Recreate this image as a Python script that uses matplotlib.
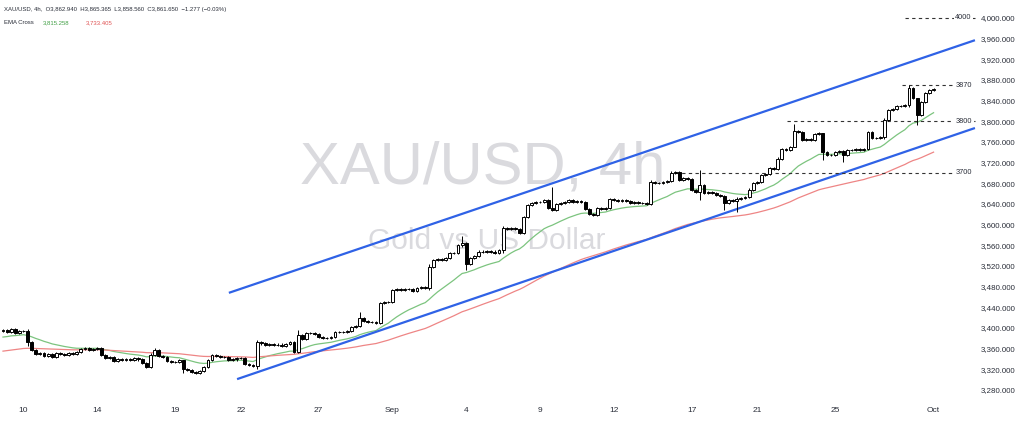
import matplotlib
matplotlib.use("Agg")
import matplotlib.pyplot as plt
import numpy as np

#==========================================================================#
#   XAU/USD 4h candles, Aug 8 -> Oct 1 (closes)         #
#==========================================================================#
closes = [
    3396, 3392, 3398, 3390, 3395, 3394, 3372, 3358, 3350, 3352,
    3346, 3350, 3344, 3352, 3350, 3348, 3351, 3349, 3353, 3360,
    3362, 3358, 3360, 3362, 3348, 3342, 3344, 3336, 3340, 3338,
    3340, 3338, 3341, 3339, 3332, 3325, 3348, 3358, 3346, 3344,
    3336, 3334, 3335, 3338, 3320, 3318, 3315, 3313, 3316, 3324,
    3338, 3348, 3346, 3344, 3343, 3338, 3339, 3342, 3341, 3330,
    3328, 3326, 3372, 3370, 3368, 3369, 3367, 3368, 3366, 3369,
    3372, 3354, 3387, 3378, 3390, 3391, 3389, 3382, 3381, 3380,
    3383, 3392, 3393, 3392, 3394, 3402, 3404, 3420, 3414, 3412,
    3411, 3410, 3449, 3451, 3450, 3474, 3476, 3474, 3475, 3476,
    3472, 3478, 3480, 3478, 3518, 3532, 3534, 3531, 3535, 3545,
    3546, 3561, 3564, 3524, 3535, 3540, 3548, 3547, 3549, 3548,
    3546, 3550, 3594, 3592, 3594, 3591, 3584, 3615, 3638, 3641,
    3643, 3644, 3648, 3632, 3628, 3640, 3642, 3643, 3648, 3644,
    3645, 3644, 3630, 3620, 3618, 3632, 3631, 3633, 3650, 3648,
    3646, 3647, 3645, 3642, 3643, 3641, 3642, 3640, 3682, 3681,
    3680, 3682, 3684, 3700, 3701, 3686, 3690, 3688, 3667, 3663,
    3676, 3661, 3664, 3662, 3658, 3656, 3642, 3648, 3646, 3650,
    3652, 3653, 3668, 3681, 3682, 3696, 3698, 3710, 3708, 3728,
    3746, 3745, 3750, 3782, 3780, 3764, 3766, 3764, 3776, 3778,
    3741, 3735, 3734, 3741, 3742, 3735, 3745, 3744, 3746, 3745,
    3746, 3779, 3768, 3768, 3769, 3803, 3822, 3824, 3830, 3829,
    3831, 3865, 3845, 3812, 3837, 3855, 3860, 3861.65,
]
first_open = 3394.0

# candles with a long wick: index -> (high, low)
long_wicks = {
    6: (3398, 3366), 36: (3352, 3322), 37: (3362, 3346), 44: (3338, 3312),
    62: (3376, 3320), 72: (3396, 3352), 87: (3430, 3402), 104: (3524, 3474),
    112: (3578, 3556), 113: (3566, 3512), 122: (3598, 3546), 134: (3673, 3626),
    158: (3686, 3638), 163: (3704, 3682), 170: (3706, 3648), 176: (3658, 3628),
    179: (3654, 3624), 193: (3795, 3750), 200: (3778, 3725), 205: (3744, 3721),
    215: (3806, 3766), 221: (3870, 3828), 223: (3846, 3793),
}

ema_fast_len = 20
ema_slow_len = 70
ema_fast_seed = 3381.0
ema_slow_seed = 3354.0

day_ticks = [5, 23, 42, 58, 77, 95, 113, 131, 149, 168, 184, 203, 227]
day_labels = ['10', '14', '19', '22', '27', 'Sep', '4', '9', '12', '17', '21', '25', 'Oct']

# hand drawn channel (bar index, price)
upper_x = [55.1, 237.1]
upper_y = [3468, 3957]
lower_x = [57.1, 237.1]
lower_y = [3301, 3787]

# horizontal levels and the bar they start from
levels = [4000, 3870, 3800, 3700]
level_start = [220.0, 219.3, 191.2, 163.9]


def ema(vals, n, seed):
    k = 2.0 / (n + 1)
    out = []
    e = seed
    for v in vals:
        e = e + k * (v - e)
        out.append(e)
    return out


#==========================================================================#
#                               figure                                     #
#==========================================================================#
plt.rcParams['font.family'] = ['Liberation Sans', 'DejaVu Sans']
txt_col = '#2a2e39'

fig = plt.figure(figsize=(10.24, 4.22), dpi=100)
ax = fig.add_axes([0, 22 / 422., 977 / 1024., 400 / 422.])

n = len(closes)
idx = np.arange(n)
c = np.array(closes, dtype=float)
o = np.concatenate([[first_open], c[:-1]])
hi = np.maximum(o, c) + 2.0
lo = np.minimum(o, c) - 2.0
for k, (h, l) in long_wicks.items():
    hi[k] = h
    lo[k] = l

up = c >= o
body_w = 0.7
ax.vlines(idx, lo, hi, color='black', lw=0.7, zorder=3)
ax.bar(idx[up], (c - o)[up], body_w, bottom=o[up], color='white',
       edgecolor='black', lw=0.7, zorder=4)
ax.bar(idx[~up], (o - c)[~up], body_w, bottom=c[~up], color='black',
       edgecolor='black', lw=0.7, zorder=4)

ax.plot(idx, ema(closes, ema_fast_len, ema_fast_seed), color='#7cc47f', lw=0.9, zorder=2)
ax.plot(idx, ema(closes, ema_slow_len, ema_slow_seed), color='#ee8585', lw=0.9, zorder=2)

# channel
ax.plot(upper_x, upper_y, color='#2f62e6', lw=1.6, zorder=2, solid_capstyle='butt')
ax.plot(lower_x, lower_y, color='#2f62e6', lw=1.6, zorder=2, solid_capstyle='butt')

# levels
for lv, st in zip(levels, level_start):
    ax.plot([st, 237.1], [lv, lv], color='#333333', lw=0.8, ls=(0, (3, 3)), zorder=2)
    ax.text(232.3, lv, str(lv), fontsize=5.3, color=txt_col, va='center', ha='left',
            zorder=5, bbox=dict(facecolor='white', edgecolor='none', pad=0.6))

# watermark
ax.text(117, 3709, 'XAU/USD, 4h', fontsize=43, color='#dadade', ha='center',
        va='center', zorder=1)
ax.text(118, 3569, 'Gold vs US Dollar', fontsize=21.5, color='#dadade', ha='center',
        va='center', zorder=1)

ax.set_xlim(-0.73, 237.6)
ax.set_ylim(3260.6, 4034.8)
ax.set_xticks(day_ticks)
ax.set_xticklabels(day_labels)
ax.set_yticks(np.arange(3280, 4001, 40))
ax.set_yticklabels(['{:,.3f}'.format(v) for v in np.arange(3280, 4001, 40)])
ax.yaxis.tick_right()
ax.tick_params(axis='y', length=0, pad=3, labelsize=5.7, labelcolor=txt_col)
ax.tick_params(axis='x', length=0, pad=5, labelsize=6, labelcolor=txt_col)
for s in ax.spines.values():
    s.set_visible(False)

# legend header
fig.text(4 / 1024., 1 - 10 / 422., 'XAU/USD, 4h,  O3,862.940  H3,865.365  L3,858.560  C3,861.650  \u22121.277 (\u22120.03%)',
         fontsize=4.35, color=txt_col, va='center')
fig.text(4 / 1024., 1 - 23 / 422., 'EMA Cross', fontsize=4.35, color=txt_col, va='center')
fig.text(43 / 1024., 1 - 23 / 422., '3,815.258', fontsize=4.35, color='#43a047', va='center')
fig.text(86 / 1024., 1 - 23 / 422., '3,733.405', fontsize=4.35, color='#e05555', va='center')

plt.savefig('out.png', dpi=100)
